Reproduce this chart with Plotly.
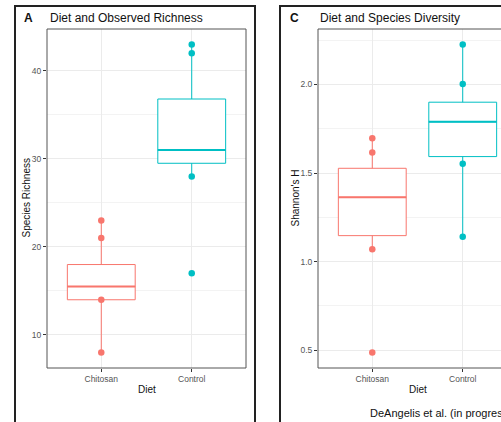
import plotly.graph_objects as go

W, H = 501, 422

categories = ["Chitosan", "Control"]
cat_pos = [1, 2]
colors = ["#F8766D", "#00BFC4"]

# Panel A: observed richness (box statistics + visible points)
rich_q1 = [14.0, 29.5]
rich_median = [15.5, 31.0]
rich_q3 = [18.0, 36.8]
rich_lower = [8.0, 28.0]
rich_upper = [23.0, 43.0]
rich_points_chitosan = [23, 21, 14, 8]
rich_points_control = [43, 42, 28, 17]
rich_ticks = [10, 20, 30, 40]

# Panel C: Shannon diversity
div_q1 = [1.147, 1.593]
div_median = [1.363, 1.789]
div_q3 = [1.527, 1.900]
div_lower = [1.070, 1.140]
div_upper = [1.697, 2.226]
div_points_chitosan = [1.697, 1.616, 1.070, 0.487]
div_points_control = [2.226, 2.002, 1.552, 1.140]
div_ticks = [0.5, 1.0, 1.5, 2.0]

BOXW = 0.75
FONT = "Liberation Sans, Arial, sans-serif"

fig = go.Figure()


def add_panel(xa, ya, q1, med, q3, lo, hi, pts):
    for i in range(2):
        fig.add_trace(go.Box(
            x=[cat_pos[i]], q1=[q1[i]], median=[med[i]], q3=[q3[i]],
            lowerfence=[lo[i]], upperfence=[hi[i]],
            width=BOXW, whiskerwidth=0, boxpoints=False,
            fillcolor="white", line=dict(color=colors[i], width=1),
            xaxis=xa, yaxis=ya, showlegend=False, hoverinfo="skip"))
        fig.add_trace(go.Scatter(
            x=[cat_pos[i] - BOXW / 2, cat_pos[i] + BOXW / 2], y=[med[i], med[i]],
            mode="lines", line=dict(color=colors[i], width=2),
            xaxis=xa, yaxis=ya, showlegend=False, hoverinfo="skip"))
        fig.add_trace(go.Scatter(
            x=[cat_pos[i]] * len(pts[i]), y=pts[i], mode="markers",
            marker=dict(color=colors[i], size=6.5, line=dict(width=0)),
            xaxis=xa, yaxis=ya, showlegend=False, hoverinfo="skip"))


add_panel("x", "y", rich_q1, rich_median, rich_q3, rich_lower, rich_upper,
          [rich_points_chitosan, rich_points_control])
add_panel("x2", "y2", div_q1, div_median, div_q3, div_lower, div_upper,
          [div_points_chitosan, div_points_control])

px_x = lambda v: v / W
px_y = lambda v: 1 - v / H

top, bottom = 29, 368
axA = (47, 246)
axC_left = 318
unit = (axA[1] - axA[0]) / 2.2

common_x = dict(tickvals=cat_pos, ticktext=categories, ticks="outside", ticklen=3,
                tickcolor="#333333", tickfont=dict(size=8.5, color="#555555", family=FONT),
                showgrid=True, gridcolor="#ebebeb", gridwidth=1, zeroline=False,
                showline=False, fixedrange=True)
common_y = dict(ticks="outside", ticklen=3, tickcolor="#333333",
                tickfont=dict(size=8.5, color="#555555", family=FONT),
                showgrid=True, gridcolor="#ebebeb", gridwidth=1, zeroline=False,
                showline=False, fixedrange=True)

fig.update_layout(
    width=W, height=H, margin=dict(l=0, r=0, t=0, b=0),
    paper_bgcolor="white", plot_bgcolor="white", showlegend=False,
    font=dict(family=FONT),
    xaxis=dict(domain=[px_x(axA[0]), px_x(axA[1])], range=[0.4, 2.6], anchor="y", **common_x),
    yaxis=dict(domain=[px_y(bottom), px_y(top)], range=[6.25, 44.75], anchor="x",
               tickvals=rich_ticks, minor=dict(dtick=5, tick0=0, showgrid=True, gridcolor="#f3f3f3", ticks=""),
               **common_y),
    xaxis2=dict(domain=[px_x(axC_left), 1], range=[0.4, 0.4 + (W - axC_left) / unit], anchor="y2", **common_x),
    yaxis2=dict(domain=[px_y(bottom), px_y(top)], range=[0.40, 2.313], anchor="x2",
                tickvals=div_ticks, tickformat=".1f",
                minor=dict(dtick=0.25, tick0=0, showgrid=True, gridcolor="#f3f3f3", ticks=""),
                **common_y),
)

shapes = []
# plot-area borders
for x0, x1 in [(axA[0], axA[1]), (axC_left, axC_left + 2.2 * unit)]:
    shapes.append(dict(type="rect", xref="paper", yref="paper",
                       x0=px_x(x0), x1=px_x(x1), y0=px_y(bottom), y1=px_y(top),
                       line=dict(color="#555555", width=1), layer="above"))
# outer panel frames
for x0, x1 in [(15, 255), (280, 520)]:
    shapes.append(dict(type="rect", xref="paper", yref="paper",
                       x0=px_x(x0), x1=px_x(x1), y0=px_y(440), y1=px_y(6),
                       line=dict(color="#222222", width=2), layer="above"))
fig.update_layout(shapes=shapes)

ann = []
def text(x, y, s, size, xanchor="left", bold=False, angle=0, color="#111111"):
    ann.append(dict(x=px_x(x), y=px_y(y), xref="paper", yref="paper", text=(f"<b>{s}</b>" if bold else s),
                    showarrow=False, xanchor=xanchor, yanchor="middle", textangle=angle,
                    font=dict(size=size, color=color, family=FONT)))

text(22, 18, "A", 12, bold=True)
text(48, 18, "Diet and Observed Richness", 12)
text(288, 18, "C", 12, bold=True)
text(318, 18, "Diet and Species Diversity", 12)
text((axA[0] + axA[1]) / 2, 389, "Diet", 10, xanchor="center")
text(axC_left + 1.1 * unit, 389, "Diet", 10, xanchor="center")
text(26, (top + bottom) / 2, "Species Richness", 10, xanchor="center", angle=-90)
text(295, (top + bottom) / 2, "Shannon's H", 10, xanchor="center", angle=-90)
text(368, 413, "DeAngelis et al. (in progress)", 11)
fig.update_layout(annotations=ann)

fig.write_html("out.html", config={"displayModeBar": False, "staticPlot": True},
               post_script="document.body.style.margin='0';document.body.style.overflow='hidden';")
